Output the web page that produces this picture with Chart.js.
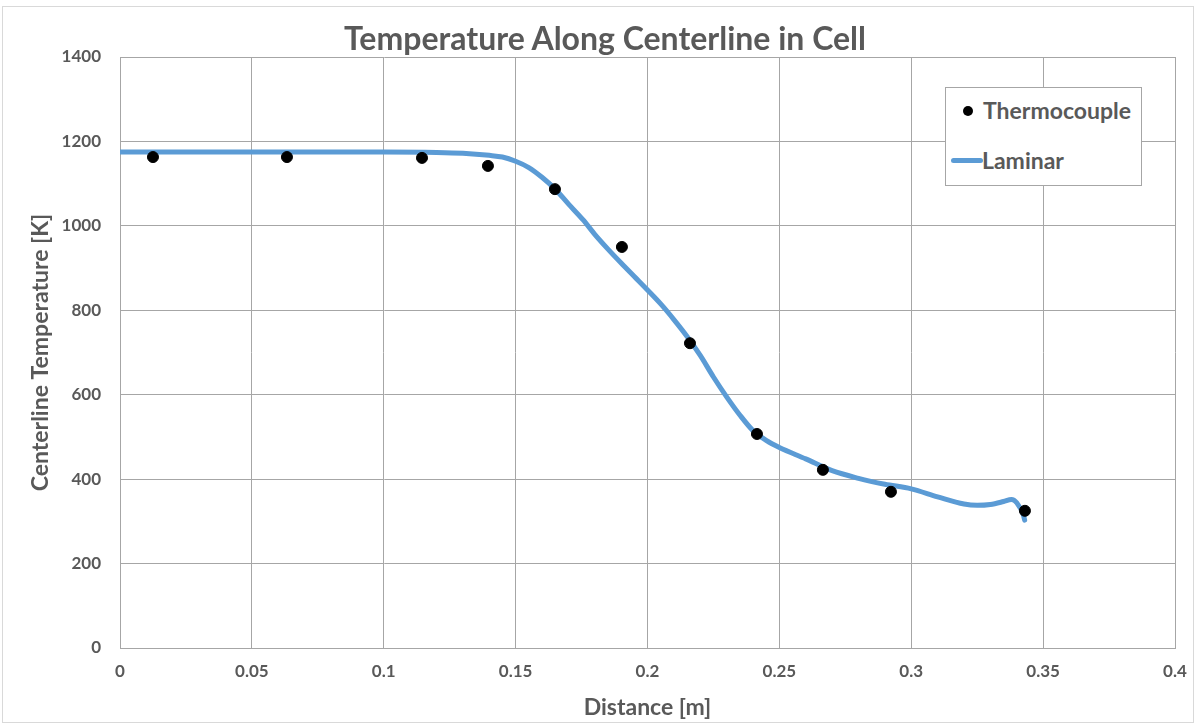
<!DOCTYPE html>
<html>
<head>
<meta charset="utf-8">
<script src="https://cdn.jsdelivr.net/npm/chart.js@4.4.0/dist/chart.umd.min.js"></script>
<style>
  html, body { margin: 0; padding: 0; background: #fff; }
  #wrap { position: relative; width: 1196px; height: 725px; }
  #frame { position: absolute; left: 2px; top: 6px; width: 1190px; height: 715px; border: 1px solid #d9d9d9; }
  #c { position: absolute; left: 0; top: 0; }
  #title { position: absolute; left: 0; width: 1210px; top: 18px; text-align: center;
           font-family: Lato, "Open Sans", sans-serif; font-weight: bold; font-size: 32px; color: #595959; }
  #legend { position: absolute; left: 945px; top: 87px; width: 195px; height: 97px; border: 1px solid #a6a6a6; background: #fff;
            font-family: Lato, "Open Sans", sans-serif; font-weight: bold; font-size: 23px; color: #595959; }
  .li { position: absolute; white-space: nowrap; }
  .dot { position: absolute; width: 10px; height: 10px; border-radius: 50%; background: #000; }
  .ln { position: absolute; height: 5px; border-radius: 3px; background: #5B9BD5; }
</style>
</head>
<body>
<div id="wrap">
  <div id="frame"></div>
  <canvas id="c" width="1196" height="725"></canvas>
  <div id="title">Temperature Along Centerline in Cell</div>
  <div id="legend">
    <div class="dot" style="left:17px; top:18px;"></div>
    <div class="li" style="left:37px; top:8px;">Thermocouple</div>
    <div class="ln" style="left:5px; top:70px; width:32px;"></div>
    <div class="li" style="left:36px; top:58px;">Laminar</div>
  </div>
</div>
<script>
// Thermocouple measurements
const tcDistance = [0.0125, 0.0633, 0.1145, 0.1395, 0.1649, 0.1903, 0.2161, 0.2415, 0.2665, 0.2923, 0.3431];
const tcTemp     = [1163, 1163, 1161, 1142, 1087, 950, 722, 507, 422, 370, 325];

// Laminar simulation curve
const lamDistance = [0, 0.05, 0.10, 0.12, 0.13, 0.14, 0.145, 0.15, 0.155, 0.16, 0.165, 0.17, 0.1756, 0.18, 0.185, 0.19, 0.195, 0.2, 0.205, 0.21, 0.215, 0.22, 0.225, 0.23, 0.235, 0.24, 0.245, 0.25, 0.26, 0.27, 0.28, 0.29, 0.30, 0.31, 0.32, 0.325, 0.33, 0.335, 0.338, 0.340, 0.3425, 0.343];
const lamTemp     = [1175, 1175, 1175, 1174, 1172, 1167, 1163, 1153, 1138, 1115, 1087, 1052, 1014, 980, 945, 912, 880, 848, 815, 778, 738, 693, 642, 595, 552, 515, 492, 475, 448, 420, 402, 388, 377, 358, 341, 338, 340, 347, 352, 344, 315, 303];

const xTicks = [0, 0.05, 0.1, 0.15, 0.2, 0.25, 0.3, 0.35, 0.4];
const yTicks = [0, 200, 400, 600, 800, 1000, 1200, 1400];

const FONT = 'Lato, "Open Sans", sans-serif';
const GRID = '#a6a6a6';
const TXT = '#595959';

new Chart(document.getElementById('c'), {
  type: 'scatter',
  data: {
    datasets: [
      {
        label: 'Thermocouple',
        data: tcDistance.map((x, i) => ({x, y: tcTemp[i]})),
        backgroundColor: '#000',
        borderColor: '#000',
        pointRadius: 5.5,
        showLine: false,
        order: 0
      },
      {
        label: 'Laminar',
        data: lamDistance.map((x, i) => ({x, y: lamTemp[i]})),
        borderColor: '#5B9BD5',
        backgroundColor: '#5B9BD5',
        borderWidth: 5,
        pointRadius: 0,
        showLine: true,
        cubicInterpolationMode: 'monotone',
        borderCapStyle: 'round',
        borderJoinStyle: 'round',
        order: 1
      }
    ]
  },
  options: {
    responsive: false,
    animation: false,
    layout: { padding: { left: 0, right: 21, top: 57, bottom: 0 } },
    plugins: { legend: { display: false }, title: { display: false }, tooltip: { enabled: false } },
    scales: {
      x: {
        type: 'linear', min: 0, max: 0.4,
        afterBuildTicks: s => { s.ticks = xTicks.map(v => ({value: v})); },
        afterFit: s => { s.height = 77; s.paddingRight = 0; s.paddingLeft = 0; },
        grid: { color: GRID, drawTicks: false, lineWidth: 1 },
        border: { color: GRID },
        ticks: { padding: 13, color: TXT, font: { family: FONT, size: 17, weight: 'bold' }, maxRotation: 0,
                 callback: v => String(v) },
        title: { display: true, text: 'Distance [m]', color: TXT, font: { family: FONT, size: 23, weight: 'bold' }, padding: { top: 0, bottom: 4 } }
      },
      y: {
        type: 'linear', min: 0, max: 1400,
        afterBuildTicks: s => { s.ticks = yTicks.map(v => ({value: v})); },
        afterFit: s => { s.width = 120; s.paddingTop = 0; s.paddingBottom = 0; },
        grid: { color: GRID, drawTicks: false, lineWidth: 1 },
        border: { color: GRID },
        ticks: { padding: 19, color: TXT, font: { family: FONT, size: 17, weight: 'bold' }, callback: v => String(v) },
        title: { display: true, text: 'Centerline Temperature [K]', color: TXT, font: { family: FONT, size: 23, weight: 'bold' }, padding: { top: 27, bottom: 0 } }
      }
    }
  }
});
</script>
</body>
</html>
